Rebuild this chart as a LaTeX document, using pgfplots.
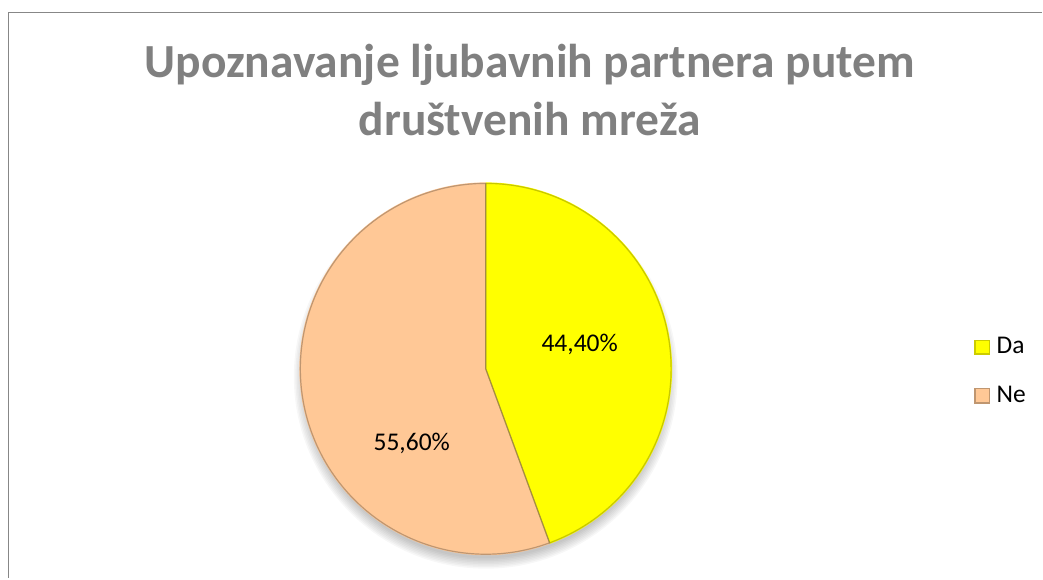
\documentclass[border=0pt]{standalone}
\usepackage{pgfplots}
\pgfplotsset{compat=1.18}
\usepackage{pgfplotstable}
\usepackage{fontspec}
\setmainfont{Carlito}
\definecolor{titlegray}{HTML}{808080}
\definecolor{frame}{HTML}{878787}
\definecolor{yel}{HTML}{FFFF00}
\definecolor{peach}{HTML}{FFC896}
\pgfplotstableread{
label value
Da 44.4
Ne 55.6
}\piedata
\begin{document}
\begin{tikzpicture}
\pgfplotstablegetelem{0}{value}\of\piedata
\pgfmathsetmacro{\aend}{90-\pgfplotsretval*3.6}
\begin{axis}[
  scale only axis, width=1043bp, height=578bp,
  xmin=0, xmax=1043, ymin=0, ymax=578,
  hide axis, clip=false,
]
\path (axis cs:0,0) rectangle (axis cs:1043,578);
% frame
\draw[frame, line width=1.2bp] (axis cs:8.5,0) -- (axis cs:8.5,565.5) -- (axis cs:1043,565.5);
% soft shadow
\pgfplotsinvokeforeach{1,...,8}{
  \fill[black, opacity=0.03] (axis cs:486,201) circle[radius={180bp+#1*1.5bp}];
}
% slices
\fill[yel] (axis cs:486,209) -- ++(90:186.5bp) arc[start angle=90, end angle=\aend, radius=186.5bp] -- cycle;
\fill[peach] (axis cs:486,209) -- ++(\aend:186.5bp) arc[start angle=\aend, end angle=-270, radius=186.5bp] -- cycle;
% bevel edges
\draw[yel!60!black, opacity=0.55, line width=1.2bp] (axis cs:486,209) -- ++(90:185.5bp) arc[start angle=90, end angle=\aend, radius=185.5bp] -- cycle;
\draw[peach!55!black, opacity=0.55, line width=1.2bp] (axis cs:486,209) -- ++(\aend:185.5bp) arc[start angle=\aend, end angle=-270, radius=185.5bp] -- cycle;
% title
\node[anchor=base, text=titlegray, font=\fontsize{47.5bp}{58bp}\selectfont\bfseries] at (axis cs:530,500) {Upoznavanje ljubavnih partnera putem};
\node[anchor=base, text=titlegray, font=\fontsize{47.5bp}{58bp}\selectfont\bfseries] at (axis cs:530,442) {društvenih mreža};
% data labels
\node[anchor=base, font=\fontsize{25.5bp}{30bp}\selectfont] at (axis cs:580,226.5) {44,40\%};
\node[anchor=base, font=\fontsize{25.5bp}{30bp}\selectfont] at (axis cs:412,127) {55,60\%};
% legend
\fill[yel!80!black] (axis cs:975,223) rectangle (axis cs:991,238);
\fill[yel] (axis cs:976.5,224.5) rectangle (axis cs:989.5,236.5);
\fill[peach!75!black] (axis cs:975,174) rectangle (axis cs:991,190);
\fill[peach] (axis cs:976.5,175.5) rectangle (axis cs:989.5,188.5);
\node[anchor=base west, inner sep=0pt, font=\fontsize{25.5bp}{30bp}\selectfont] at (axis cs:997,224) {Da};
\node[anchor=base west, inner sep=0pt, font=\fontsize{25.5bp}{30bp}\selectfont] at (axis cs:997,175) {Ne};
\end{axis}
\end{tikzpicture}
\end{document}
